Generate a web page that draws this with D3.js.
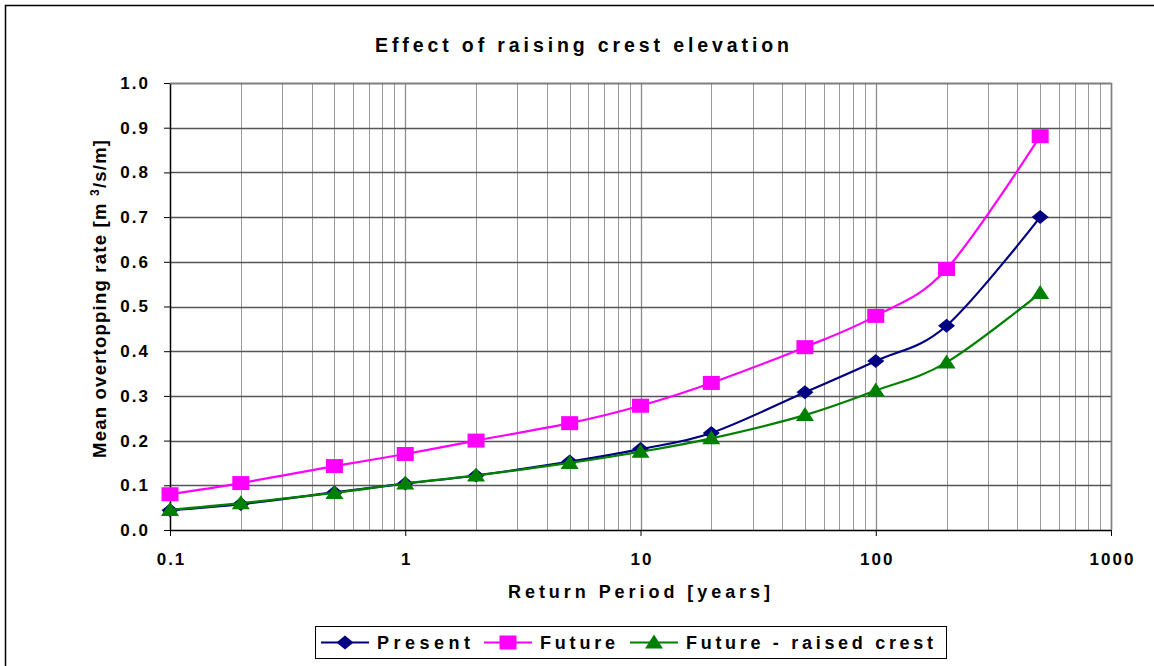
<!DOCTYPE html>
<html>
<head>
<meta charset="utf-8">
<script src="https://cdn.jsdelivr.net/npm/d3@7"></script>
<style>
  body { margin: 0; background: #fff; }
  text { font-family: "Liberation Sans", Arial, sans-serif; font-weight: bold; fill: #000; }
</style>
</head>
<body>
<svg id="chart" width="1154" height="666"></svg>
<script>
// return periods (years)
const returnPeriods = [0.1, 0.2, 0.5, 1, 2, 5, 10, 20, 50, 100, 200, 500];
// mean overtopping rates, m3/s/m
const present = [0.044, 0.058, 0.084, 0.104, 0.122, 0.153, 0.181, 0.217, 0.308, 0.378, 0.457, 0.700];
const future = [0.080, 0.105, 0.143, 0.170, 0.200, 0.239, 0.278, 0.329, 0.409, 0.479, 0.584, 0.881];
const futureRaised = [0.045, 0.060, 0.083, 0.104, 0.122, 0.150, 0.175, 0.205, 0.257, 0.312, 0.375, 0.530];
const xTicks = [0.1, 1, 10, 100, 1000];
const yTicks = [0, 0.1, 0.2, 0.3, 0.4, 0.5, 0.6, 0.7, 0.8, 0.9, 1.0];

const series = [
  { name: 'Present', values: present, color: '#000080', marker: 'diamond' },
  { name: 'Future', values: future, color: '#ff00ff', marker: 'square' },
  { name: 'Future - raised crest', values: futureRaised, color: '#008000', marker: 'triangle' }
];

const svg = d3.select('#chart');
const plotLeft = 170, plotRight = 1111, plotTop = 83, plotBottom = 530;

// outer chart frame (runs off the right and bottom edge)
svg.append('rect')
  .attr('x', 5.5).attr('y', 5.5)
  .attr('width', 1160).attr('height', 680)
  .attr('fill', 'none').attr('stroke', '#000').attr('stroke-width', 1.5);

const x = d3.scaleLog().domain([0.1, 1000]).range([plotLeft, plotRight]);
const y = d3.scaleLinear().domain([0, 1]).range([plotBottom, plotTop]);

// vertical grid, minor and major
const minor = [];
[0.1, 1, 10, 100].forEach(d => { for (let k = 2; k <= 9; k++) minor.push(d * k); });
svg.append('g').selectAll('line').data(minor).enter().append('line')
  .attr('x1', d => Math.round(x(d)) + 0.5).attr('x2', d => Math.round(x(d)) + 0.5)
  .attr('y1', plotTop).attr('y2', plotBottom)
  .attr('stroke', '#999')
  .attr('stroke-width', 1);
svg.append('g').selectAll('line').data(xTicks.slice(1)).enter().append('line')
  .attr('x1', d => Math.round(x(d)) + 0.5).attr('x2', d => Math.round(x(d)) + 0.5)
  .attr('y1', plotTop).attr('y2', plotBottom)
  .attr('stroke', '#8c8c8c').attr('stroke-width', 1.3);

// horizontal grid
svg.append('g').selectAll('line').data(yTicks.slice(1)).enter().append('line')
  .attr('x1', plotLeft).attr('x2', plotRight)
  .attr('y1', d => Math.round(y(d)) + 0.5).attr('y2', d => Math.round(y(d)) + 0.5)
  .attr('stroke', '#555').attr('stroke-width', 1.3);

// axes
const yAxis = svg.append('g').attr('transform', `translate(${plotLeft},0)`)
  .call(d3.axisLeft(y).tickValues(yTicks).tickFormat(d3.format('.1f')).tickSize(6).tickPadding(14));
const xAxis = svg.append('g').attr('transform', `translate(0,${plotBottom})`)
  .call(d3.axisBottom(x).tickValues(xTicks).tickFormat(d => d < 1 ? d3.format('.1f')(d) : d3.format('d')(d)).tickSize(6).tickPadding(17));
[xAxis, yAxis].forEach(a => {
  a.select('.domain').attr('stroke', '#000').attr('stroke-width', 1.5);
  a.selectAll('.tick line').attr('stroke', '#000');
  a.selectAll('text').style('font-size', '17px').style('letter-spacing', '2px')
    .style('font-family', '"Liberation Sans", Arial, sans-serif').style('font-weight', 'bold').attr('fill', '#000');
});
xAxis.selectAll('.tick text').attr('dx', '1px');
xAxis.select('.domain').attr('d', `M${plotLeft},0.5H${plotRight}`);
yAxis.select('.domain').attr('d', `M0.5,${plotBottom}V${plotTop}`);

// plot area right/top border
svg.append('path')
  .attr('d', `M${plotLeft},${plotTop + 0.5}H${plotRight + 0.5}V${plotBottom}`)
  .attr('fill', 'none').attr('stroke', '#808080').attr('stroke-width', 1.5);

// marker symbols (slightly wider than tall, as in the source)
function drawMarker(g, type, color, cx, cy) {
  if (type === 'diamond') {
    g.append('path').attr('d', `M${cx},${cy - 7}L${cx + 8.5},${cy}L${cx},${cy + 7}L${cx - 8.5},${cy}Z`).attr('fill', color);
  } else if (type === 'square') {
    g.append('rect').attr('x', cx - 8.5).attr('y', cy - 7).attr('width', 17).attr('height', 14).attr('fill', color);
  } else {
    g.append('path').attr('d', `M${cx},${cy - 8}L${cx + 9},${cy + 6}L${cx - 9},${cy + 6}Z`).attr('fill', color);
  }
}

// Excel-like smoothing (uniform Catmull-Rom)
const line = d3.line()
  .x(d => x(d[0])).y(d => y(d[1]))
  .curve(d3.curveCardinal.tension(0));

series.forEach(s => {
  const pts = returnPeriods.map((r, i) => [r, s.values[i]]);
  svg.append('path').datum(pts)
    .attr('d', line).attr('fill', 'none')
    .attr('stroke', s.color).attr('stroke-width', 2.2);
  const g = svg.append('g');
  pts.forEach(p => drawMarker(g, s.marker, s.color, x(p[0]), y(p[1])));
});

// title
svg.append('text')
  .attr('x', 582).attr('y', 52).attr('text-anchor', 'middle')
  .attr('textLength', 414).attr('lengthAdjust', 'spacing')
  .style('font-size', '19.5px')
  .text('Effect of raising crest elevation');

// x axis title
svg.append('text')
  .attr('x', 639).attr('y', 598).attr('text-anchor', 'middle')
  .attr('textLength', 262).attr('lengthAdjust', 'spacing')
  .style('font-size', '18px')
  .text('Return Period [years]');

// y axis title with superscript
const yt = svg.append('text')
  .attr('transform', 'translate(106,299) rotate(-90)')
  .attr('text-anchor', 'middle')
  .attr('textLength', 318).attr('lengthAdjust', 'spacing')
  .style('font-size', '18.5px');
yt.append('tspan').text('Mean overtopping rate [m ');
yt.append('tspan').attr('dy', -7).style('font-size', '12px').text('3');
yt.append('tspan').attr('dy', 7).text('/s/m]');

// legend
const lg = svg.append('g');
lg.append('rect').attr('x', 315.5).attr('y', 626.5).attr('width', 631).attr('height', 32)
  .attr('fill', '#fff').attr('stroke', '#000').attr('stroke-width', 1);
const legendX = [321, 484, 630];
const legendW = [93, 75, 247];
series.forEach((s, i) => {
  const lx = legendX[i];
  lg.append('line').attr('x1', lx).attr('x2', lx + 48).attr('y1', 642.5).attr('y2', 642.5)
    .attr('stroke', s.color).attr('stroke-width', 2.2);
  drawMarker(lg, s.marker, s.color, lx + 24, 642.5);
  lg.append('text').attr('x', lx + 56).attr('y', 649)
    .attr('textLength', legendW[i]).attr('lengthAdjust', 'spacing')
    .style('font-size', '18px').text(s.name);
});
</script>
</body>
</html>
